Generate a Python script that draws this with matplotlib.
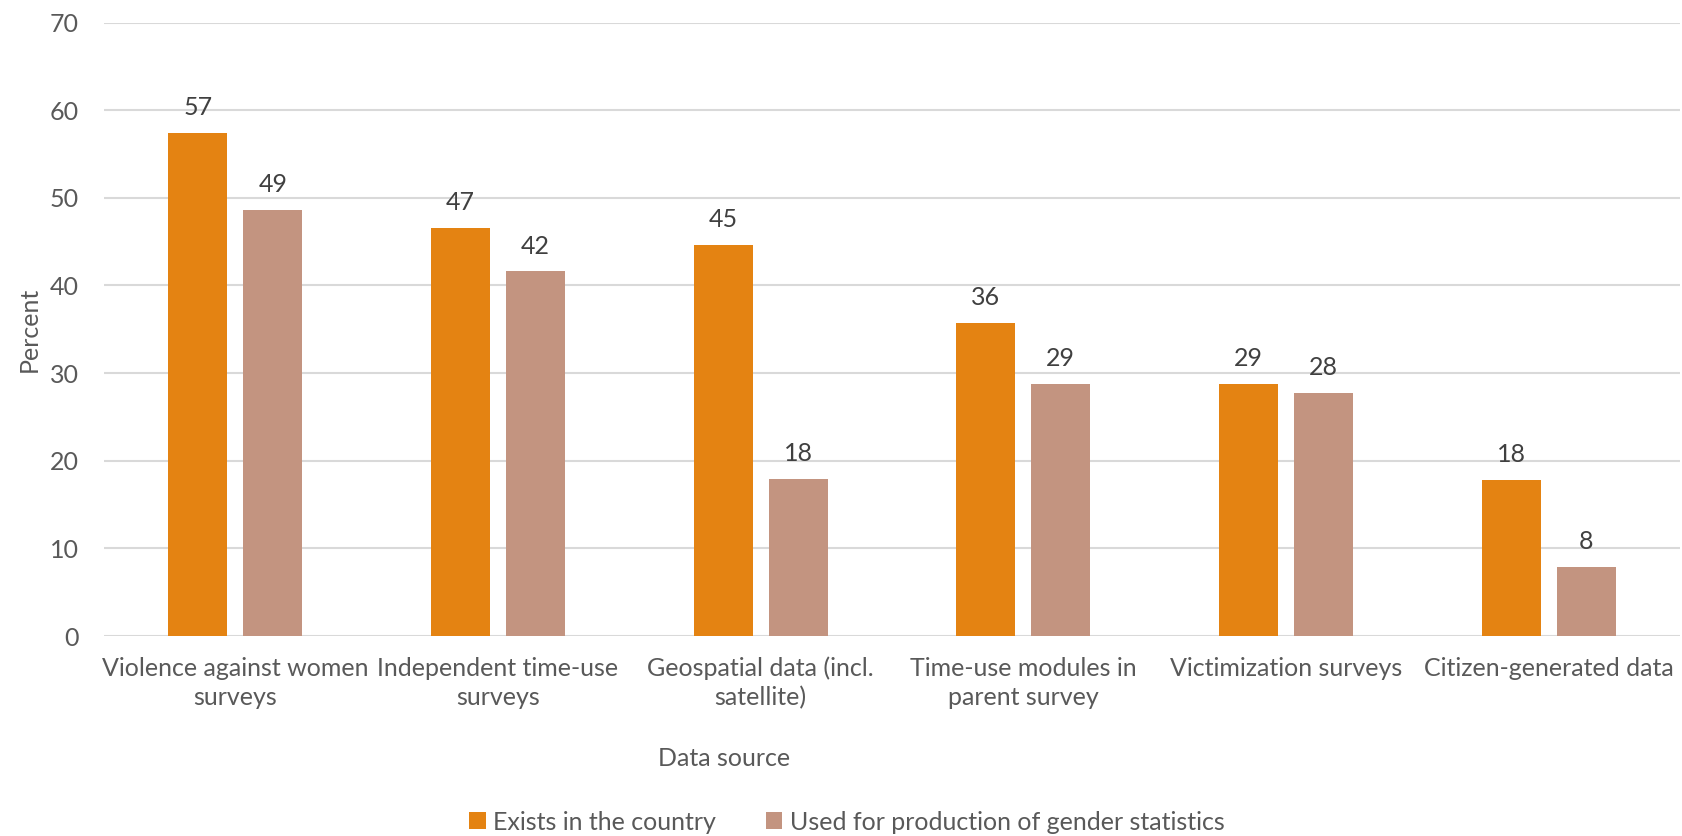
import matplotlib
matplotlib.use("Agg")
import matplotlib.pyplot as plt
import numpy as np

# data
categories = ["Violence against women\nsurveys", "Independent time-use\nsurveys",
              "Geospatial data (incl.\nsatellite)", "Time-use modules in\nparent survey",
              "Victimization surveys", "Citizen-generated data"]
exists = [57.4, 46.6, 44.6, 35.7, 28.8, 17.8]
used = [48.6, 41.6, 17.9, 28.8, 27.7, 7.9]
series_names = ["Exists in the country", "Used for production of gender statistics"]

c_orange = "#E48312"
c_tan = "#C39480"
txt = "#595959"
fs = 18

plt.rcParams["font.family"] = ["Lato", "DejaVu Sans"]

fig = plt.figure(figsize=(16.82, 8.36), dpi=100)
ax = fig.add_axes([104/1682, 1-636/836, (1680-104)/1682, (636-22.5)/836])

x = np.arange(len(categories))
w = 0.2245
off = 0.1427
b1 = ax.bar(x - off, exists, w, color=c_orange, label=series_names[0], zorder=3)
b2 = ax.bar(x + off, used, w, color=c_tan, label=series_names[1], zorder=3)

for bars, vals in ((b1, exists), (b2, used)):
    for r, v in zip(bars, vals):
        ax.annotate("%.0f" % v, (r.get_x() + r.get_width()/2, v), xytext=(0, 10),
                    textcoords="offset points", ha="center", va="bottom",
                    fontsize=fs, color="#404040")

ax.set_xlim(-0.5, len(categories) - 0.5)
ax.set_ylim(0, 70)
ax.set_yticks(range(0, 71, 10))
ax.set_xticks(x)
ax.set_xticklabels(categories, fontsize=fs, color=txt, linespacing=1.3)
ax.tick_params(axis="y", labelsize=fs, colors=txt, length=0, pad=18)
ax.tick_params(axis="x", length=0, pad=15)
ax.grid(axis="y", color="#D9D9D9", linewidth=1.5, zorder=0)
for s in ax.spines.values():
    s.set_visible(False)

fig.text(29/1682, 1-329/836, "Percent", rotation=90, ha="center", va="center",
         fontsize=fs, color=txt)
fig.text(724/1682, 1-758/836, "Data source", ha="center", va="center",
         fontsize=fs, color=txt)

fig.legend(handles=[b1, b2], loc="center", bbox_to_anchor=(847/1682, 1-822/836),
           ncol=2, frameon=False, fontsize=fs, labelcolor=txt,
           handlelength=0.65, handleheight=0.65, handletextpad=0.3, columnspacing=2.0)

fig.savefig("out.png", dpi=100)
